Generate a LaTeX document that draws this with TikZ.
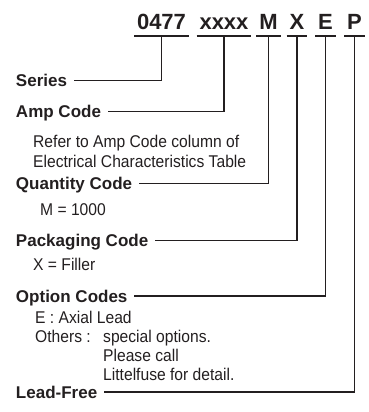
\documentclass[tikz,border=0pt]{standalone}
\usepackage{fontspec}
\setmainfont{Liberation Sans}
\newfontfamily\notefont[FakeStretch=0.92]{Liberation Sans}
\definecolor{ink}{HTML}{231F20}
\tikzset{
	part/.style={font=\fontsize{22}{22}\selectfont\bfseries, text=ink, anchor=base, inner xsep=3pt, inner ysep=6pt, text depth=0pt, outer sep=0pt},
	field/.style={font=\fontsize{17}{20}\selectfont\bfseries, text=ink, anchor=west, inner xsep=7pt, inner ysep=0pt, text height=12.2pt, text depth=0pt, outer sep=0pt},
	note/.style={font=\notefont\fontsize{17}{20.5}\selectfont, text=ink, anchor=base west, inner sep=0pt, align=left},
	lead/.style={draw=ink, line width=1.3pt}
}
\begin{document}
\begin{tikzpicture}[x=1pt,y=-1pt]
	\useasboundingbox (0,0) rectangle (369,412);
	\node[part] (0477) at (161.5,30) {0477};
	\node[part] (xxxx) at (224,30) {xxxx};
	\node[part] (M) at (268.5,30) {M};
	\node[part] (X) at (297,30) {X};
	\node[part] (E) at (325.5,30) {E};
	\node[part] (P) at (354.5,30) {P};
	\foreach \p in {0477,xxxx,M,X,E,P}
		\draw[lead] (\p.south west) -- (\p.south east);
	\node[field] (Series) at (9,80.5) {Series};
	\node[field] (Amp) at (9,111.5) {Amp Code};
	\node[field] (Quantity) at (9,183.5) {Quantity Code};
	\node[field] (Packaging) at (9,240.5) {Packaging Code};
	\node[field] (Option) at (9,296) {Option Codes};
	\node[field] (LeadFree) at (9,392) {Lead-Free};
	\node[note] (AmpNote) at (33,167.5) {Refer to Amp Code column of\\Electrical Characteristics Table};
	\node[note] (QuantityNote) at (40,215) {M = 1000};
	\node[note] (PackagingNote) at (33,270) {X = Filler};
	\node[note,font=\notefont\fontsize{17}{19.2}\selectfont] (OptionNote) at (35,323) {\begin{tabular}[t]{@{}p{68pt}@{}l@{}}
		\multicolumn{2}{@{}l@{}}{E : Axial Lead}\\
		Others :&special options.\\
		&Please call\\
		&Littelfuse for detail.
	\end{tabular}};
	\draw[lead] (Series.east) -| (0477.south);
	\draw[lead] (Amp.east) -| (xxxx.south);
	\draw[lead] (Quantity.east) -| (M.south);
	\draw[lead] (Packaging.east) -| (X.south);
	\draw[lead] (Option.east) -| (E.south);
	\draw[lead] (LeadFree.east) -| (P.south);
\end{tikzpicture}
\end{document}
